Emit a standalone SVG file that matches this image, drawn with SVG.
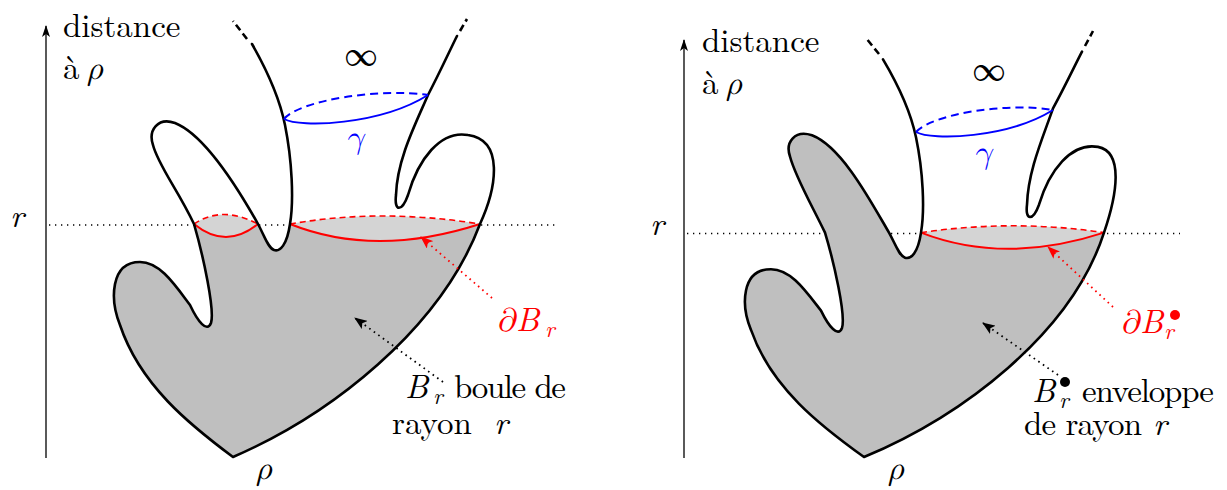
<svg xmlns="http://www.w3.org/2000/svg" width="1227" height="490" viewBox="0 0 1227 490">
<style>
.t{font-family:'Latin Modern Roman','Latin Modern Math','Liberation Serif',serif;font-size:33px;fill:#000}
.i{font-style:italic}
.s{font-size:23px}
.out{fill:none;stroke:#000;stroke-width:2.6;stroke-linejoin:round;stroke-linecap:round}
.ext{fill:none;stroke:#000;stroke-width:2.6;stroke-dasharray:7 4}
.gray{fill:#bfbfbf;stroke:none}
.lens{fill:#d4d4d4;stroke:none}
.rs{fill:none;stroke:#ff0000;stroke-width:2}
.rd{fill:none;stroke:#ff0000;stroke-width:1.6;stroke-dasharray:6 4}
.bs{fill:none;stroke:#0000ff;stroke-width:2}
.bd{fill:none;stroke:#0000ff;stroke-width:2;stroke-dasharray:8 5}
.axis{fill:none;stroke:#000;stroke-width:1.3}
.lvl{fill:none;stroke:#000;stroke-width:1.3;stroke-dasharray:1.3 4.7}
.ka{fill:none;stroke:#000;stroke-width:1.8;stroke-dasharray:1.6 4}
.ra{fill:none;stroke:#ff0000;stroke-width:1.8;stroke-dasharray:1.6 4}
</style>
<defs>
<marker id="axh" markerUnits="userSpaceOnUse" viewBox="0 0 12 8" refX="11" refY="4" markerWidth="12" markerHeight="8" orient="auto"><path d="M0,0 L12,4 L0,8 L3,4 Z" fill="#000"/></marker>
<marker id="kh" markerUnits="userSpaceOnUse" viewBox="0 0 13 10" refX="12" refY="5" markerWidth="13" markerHeight="10" orient="auto"><path d="M0,0 L13,5 L0,10 L3,5 Z" fill="#000"/></marker>
<marker id="rh" markerUnits="userSpaceOnUse" viewBox="0 0 13 10" refX="12" refY="5" markerWidth="13" markerHeight="10" orient="auto"><path d="M0,0 L13,5 L0,10 L3,5 Z" fill="#ff0000"/></marker>
</defs>

<g id="left-figure">
 <g id="left-axis">
  <line class="axis" x1="46" y1="458" x2="46" y2="26" marker-end="url(#axh)"/>
  <text class="t" x="63" y="37">distance</text>
  <text class="t" x="63" y="79">à <tspan class="i" x="87">ρ</tspan></text>
  <text class="t i" x="10" y="227">r</text>
  <line class="lvl" x1="49" y1="225" x2="556" y2="225"/>
 </g>
 <g id="left-ball">
  <path class="gray" d="M290,224 C287,245 280,252 274,250 C268,248 264,235 258,224 Q226,250 194,224 C203,255 215,310 211,323 C207,333 198,322 190,305 C175,285 160,262 140,262 C110,262 110,300 120,325 C140,385 190,425 233,457 C330,415 440,330 480,224 Q375,258 290,224 Z"/>
  <path class="lens" d="M194,224 Q222,205 258,224 Q226,250 194,224 Z M290,224 Q380,208 480,224 Q375,258 290,224 Z"/>
  <path class="rs" d="M194,224 Q226,250 258,224 M290,224 Q375,258 480,224"/>
  <path class="rd" d="M194,224 Q222,205 258,224 M290,224 Q380,208 480,224"/>
 </g>
 <g id="left-surface">
  <path class="out" d="M252,44 C268,72 280,100 285,125 C292,160 294,200 290,224 C287,245 280,252 274,250 C268,248 264,235 258,224 C240,192 205,135 175,123 C158,117 148,130 153,145 C158,165 178,190 194,224 C203,255 215,310 211,323 C207,333 198,322 190,305 C175,285 160,262 140,262 C110,262 110,300 120,325 C140,385 190,425 233,457 C330,415 440,330 480,224 C497,187 504,140 468,135 C440,130 418,160 408,195 C402,212 394,212 396,195 C397,160 415,125 428,95 C440,72 450,50 457,36"/>
  <line class="ext" x1="247" y1="39" x2="233" y2="21"/>
  <line class="ext" x1="460" y1="31" x2="467" y2="19"/>
 </g>
 <g id="left-gamma">
  <path class="bs" d="M284,119 C300,128 380,125 428,95"/>
  <path class="bd" d="M284,119 C300,100 380,88 428,95"/>
  <text class="t i" x="345" y="148" style="fill:#0000ff">γ</text>
 </g>
 <text class="t" x="361" y="66" text-anchor="middle">∞</text>
 <g id="left-labels">
  <line class="ra" x1="492" y1="298" x2="421" y2="237" marker-end="url(#rh)"/>
  <text class="t i" x="496" y="331" style="fill:#ff0000">∂<tspan x="516">B</tspan><tspan class="s" x="545" dy="6">r</tspan></text>
  <line class="ka" x1="443" y1="382" x2="355" y2="318" marker-end="url(#kh)"/>
  <text class="t i" x="405" y="398">B<tspan class="s" x="433" dy="6">r</tspan></text>
  <text class="t" x="454" y="398" textLength="112">boule de</text>
  <text class="t" x="392" y="434">rayon</text>
  <text class="t i" x="494" y="434">r</text>
  <text class="t i" x="256" y="479">ρ</text>
 </g>
</g>

<g id="right-figure">
 <g id="right-axis">
  <line class="axis" x1="684" y1="458" x2="684" y2="40" marker-end="url(#axh)"/>
  <text class="t" x="702" y="52">distance</text>
  <text class="t" x="702" y="94">à <tspan class="i" x="726">ρ</tspan></text>
  <text class="t i" x="650" y="235">r</text>
  <line class="lvl" x1="687" y1="233.5" x2="1180" y2="233.5"/>
 </g>
 <g id="right-hull">
  <path class="gray" d="M921,232.6 C918,252.8 911,259.6 905,257.7 C899,255.7 895,243.2 889,232.6 C871,201.8 842,146.9 812,135.3 C795,129.6 785,142.1 790,156.5 C795,175.8 809,199.9 825,232.6 C834,262.5 846,315.4 842,327.9 C838,337.6 829,327 821,310.6 C806,291.4 791,269.2 771,269.2 C741,269.2 741,305.8 751,329.9 C771,387.7 821,426.2 864,457 C961,416.5 1071,334.7 1104,232.6 Q1005,265 921,232.6 Z"/>
  <path class="lens" d="M921,232.6 Q1013,219 1104,232.6 Q1005,265 921,232.6 Z"/>
  <path class="rs" d="M921,232.6 Q1005,265 1104,232.6"/>
  <path class="rd" d="M921,232.6 Q1013,219 1104,232.6"/>
 </g>
 <g id="right-surface">
  <path class="out" d="M883,59.3 C899,86.2 911,113.2 916,137.3 C923,171 925,209.5 921,232.6 C918,252.8 911,259.6 905,257.7 C899,255.7 895,243.2 889,232.6 C871,201.8 842,146.9 812,135.3 C795,129.6 785,142.1 790,156.5 C795,175.8 809,199.9 825,232.6 C834,262.5 846,315.4 842,327.9 C838,337.6 829,327 821,310.6 C806,291.4 791,269.2 771,269.2 C741,269.2 741,305.8 751,329.9 C771,387.7 821,426.2 864,457 C961,416.5 1071,334.7 1104,232.6 C1117,195 1124,152 1098,146.9 C1071,142.1 1049,171 1039,204.7 C1033,221.1 1025,221.1 1027,204.7 C1028,171 1043,137.3 1053,108.4 C1065,86.2 1075,65.1 1082,51.6"/>
  <line class="ext" x1="879" y1="54" x2="866" y2="38"/>
  <line class="ext" x1="1085" y1="46" x2="1093" y2="31"/>
 </g>
 <g id="right-gamma">
  <path class="bs" d="M916,132 C932,141 1008,138 1053,110"/>
  <path class="bd" d="M916,132 C932,114 1008,102 1053,110"/>
  <text class="t i" x="973" y="163" style="fill:#0000ff">γ</text>
 </g>
 <text class="t" x="989" y="81" text-anchor="middle">∞</text>
 <g id="right-labels">
  <line class="ra" x1="1113" y1="307" x2="1048" y2="247" marker-end="url(#rh)"/>
  <text class="t i" x="1120" y="333" style="fill:#ff0000">∂<tspan x="1140">B</tspan><tspan class="s" x="1164" dy="6">r</tspan></text>
  <circle cx="1175" cy="315" r="5" fill="#ff0000"/>
  <line class="ka" x1="1058" y1="375" x2="983" y2="323" marker-end="url(#kh)"/>
  <text class="t i" x="1032" y="402">B<tspan class="s" x="1059" dy="6">r</tspan></text>
  <circle cx="1065" cy="382" r="5" fill="#000"/>
  <text class="t" x="1082" y="402" textLength="132">enveloppe</text>
  <text class="t" x="1024" y="435" textLength="118">de rayon</text>
  <text class="t i" x="1153" y="435">r</text>
  <text class="t i" x="888" y="479">ρ</text>
 </g>
</g>
</svg>
